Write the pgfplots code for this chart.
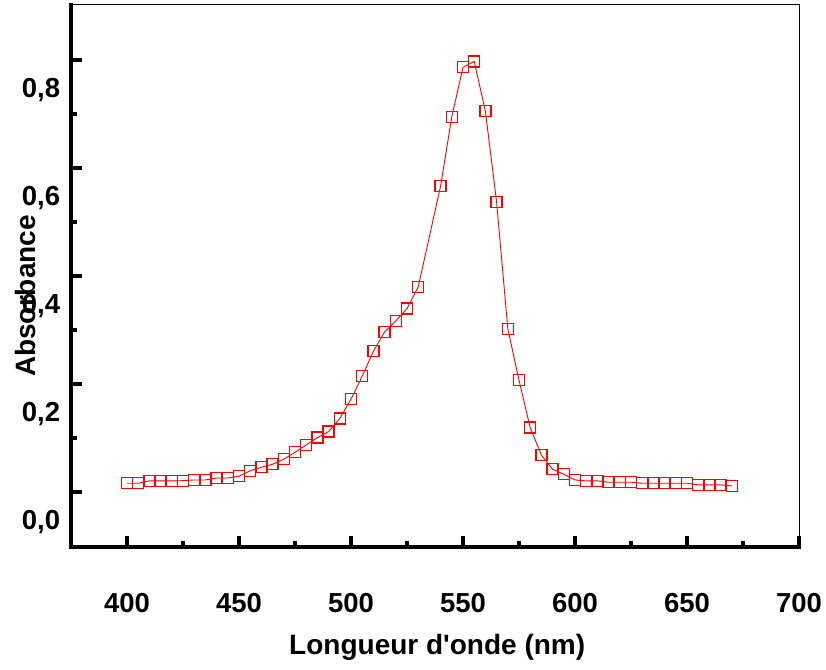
\documentclass[border=0pt]{standalone}
\usepackage{fontspec}
\setmainfont{Liberation Sans}[Ligatures=TeXOff]
\usepackage{pgfplots}
\pgfplotsset{compat=1.18}
\definecolor{pred}{RGB}{255,0,0}
\begin{document}
\begin{tikzpicture}
\path[use as bounding box] (-71pt,-122pt) rectangle (755pt,547pt);
\begin{axis}[
  at={(0pt,0pt)}, anchor=south west,
  scale only axis, width=728pt, height=542pt,
  xmin=375, xmax=700, ymin=-0.102, ymax=0.902,
  axis lines*=left,
  axis line style={-, line width=3.5pt, line cap=rect},
  xtick={400,450,500,550,600,650,700},
  minor xtick={425,475,525,575,625,675},
  ytick={0,0.2,0.4,0.6,0.8},
  minor ytick={0.1,0.3,0.5,0.7},
  tick align=inside,
  major tick length=11pt, minor tick length=6pt,
  every tick/.style={black, line width=3.2pt},
  /pgf/number format/assume math mode=true,
  ticklabel style={font=\fontsize{27.5}{32}\selectfont\bfseries},
  xticklabel style={anchor=center, yshift=-56pt},
  y tick label style={/pgf/number format/.cd, use comma, fixed, fixed zerofill, precision=1, /tikz/.cd, anchor=center, xshift=-30pt, yshift=-30pt},
  xlabel={Longueur d'onde (nm)}, ylabel={Absorbance},
  label style={font=\fontsize{28}{34}\selectfont\bfseries},
  xlabel style={at={(axis description cs:0.503,-0.186)}, anchor=center},
  ylabel style={at={(axis description cs:-0.062,0.463)}, anchor=center},
  clip=false,
]
\addplot[color=pred, line width=0.9pt, mark=square, mark size=5.5pt,
  mark options={line width=1.3pt, fill=white, solid}] table {
x y
400 0.0161
405 0.0161
410 0.0204
415 0.0204
420 0.0204
425 0.0209
430 0.0222
435 0.0222
440 0.0259
445 0.0259
450 0.0291
455 0.0394
460 0.0457
465 0.0513
470 0.0606
475 0.0735
480 0.0870
485 0.1006
490 0.1117
495 0.1361
500 0.1717
505 0.2143
510 0.2606
515 0.2963
520 0.3167
525 0.3398
530 0.3796
540 0.5667
545 0.6950
550 0.7865
555 0.7976
560 0.7050
565 0.5370
570 0.3024
575 0.2069
580 0.1191
585 0.0681
590 0.0420
595 0.0328
600 0.0222
605 0.0204
610 0.0204
615 0.0180
620 0.0180
625 0.0180
630 0.0161
635 0.0161
640 0.0161
645 0.0161
650 0.0161
655 0.0130
660 0.0130
665 0.0130
670 0.0111
};
\draw[black, line width=1pt] (rel axis cs:0,1) -- (rel axis cs:1,1) -- (rel axis cs:1,0);
\end{axis}
\end{tikzpicture}
\end{document}
